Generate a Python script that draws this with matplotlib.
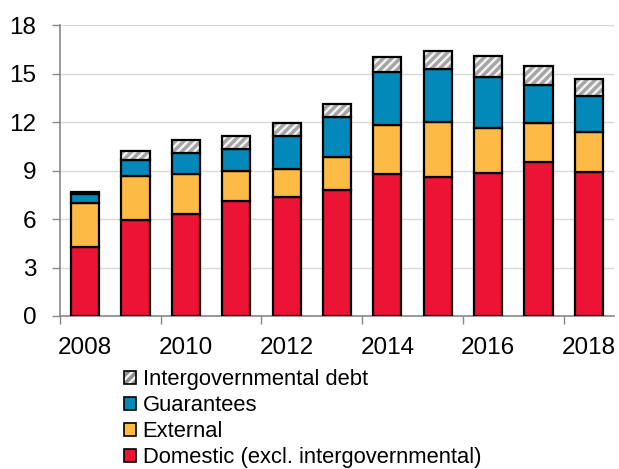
import matplotlib
matplotlib.use("Agg")
import matplotlib.pyplot as plt
from matplotlib.patches import Patch
from matplotlib.legend_handler import HandlerTuple
import numpy as np

years = [2008, 2009, 2010, 2011, 2012, 2013, 2014, 2015, 2016, 2017, 2018]
domestic = [4.24, 5.93, 6.34, 7.09, 7.33, 7.79, 8.78, 8.62, 8.82, 9.50, 8.88]
external = [2.74, 2.75, 2.46, 1.90, 1.78, 2.02, 3.06, 3.36, 2.81, 2.44, 2.50]
guarantees = [0.54, 0.99, 1.28, 1.32, 2.05, 2.48, 3.24, 3.31, 3.16, 2.32, 2.24]
intergov = [0.15, 0.56, 0.83, 0.85, 0.76, 0.81, 0.97, 1.09, 1.31, 1.19, 1.01]

labels = ["Domestic (excl. intergovernmental)", "External", "Guarantees", "Intergovernmental debt"]
colors = ["#EC1334", "#FDBA44", "#0388BA", "#FFFFFF"]

plt.rcParams['font.family'] = ['Liberation Sans', 'DejaVu Sans']
plt.rcParams['hatch.linewidth'] = 2.5

fig = plt.figure(figsize=(6.19, 4.69), dpi=100)
ax = fig.add_axes([60/619, 1-316/469, 554/619, 291/469])

x = np.arange(len(years))
w = 0.56
bottom = np.zeros(len(years))
series = [domestic, external, guarantees]
for vals, c in zip(series, colors[:3]):
    ax.bar(x, vals, w, bottom=bottom, color=c, edgecolor="black", linewidth=1.6, zorder=3)
    bottom = bottom + np.array(vals)
# hatched top
ax.bar(x, intergov, w, bottom=bottom, color="#F4F4F4", edgecolor="#A6A6A6", hatch="////", linewidth=0, zorder=3)
ax.bar(x, intergov, w, bottom=bottom, fill=False, edgecolor="black", linewidth=1.6, zorder=4)

ax.set_ylim(0, 18)
ax.set_yticks(np.arange(0, 19, 3))
ax.set_xlim(-0.5, len(years) - 0.5)
ax.set_xticks(x[::2])
ax.set_xticklabels([str(y) for y in years[::2]])
ax.set_xticks(np.arange(-0.5, len(years) - 0.5, 2), minor=True)
ax.tick_params(axis='x', which='major', length=0, labelsize=17.5, pad=15)
ax.tick_params(axis='x', which='minor', length=6, width=1, color="#888888")
ax.tick_params(axis='y', length=6, width=1, color="#888888", labelsize=17.5, pad=11)
ax.grid(axis='y', color="#D9D9D9", linewidth=1, zorder=0)
ax.set_axisbelow(True)
for s in ["top", "right"]:
    ax.spines[s].set_visible(False)
for s in ["left", "bottom"]:
    ax.spines[s].set_color("#888888")
    ax.spines[s].set_linewidth(1.2)

hatch_handle = (Patch(facecolor="#F4F4F4", edgecolor="#909090", hatch="////", linewidth=0),
                Patch(fill=False, edgecolor="black", linewidth=1.2))
handles = [
    hatch_handle,
    Patch(facecolor=colors[2], edgecolor="black", linewidth=1.2),
    Patch(facecolor=colors[1], edgecolor="black", linewidth=1.2),
    Patch(facecolor=colors[0], edgecolor="black", linewidth=1.2),
]
leg_labels = ["Intergovernmental debt", "Guarantees", "External", "Domestic (excl. intergovernmental)"]
fig.legend(handles, leg_labels, loc="upper left", bbox_to_anchor=(124/619, 1-369/469),
           frameon=False, fontsize=15.8, handlelength=0.55, handleheight=0.55,
           handletextpad=0.3, labelspacing=0.23, borderaxespad=0, borderpad=0,
           handler_map={tuple: HandlerTuple(ndivide=1, pad=0)})

fig.savefig("out.png", dpi=100)
